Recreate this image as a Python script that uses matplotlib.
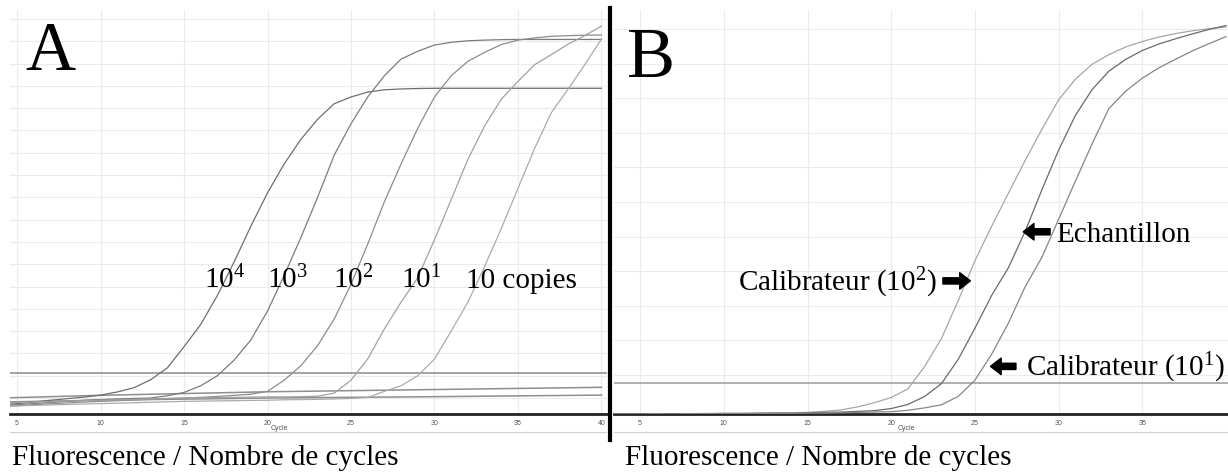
import matplotlib
matplotlib.use("Agg")
import matplotlib.pyplot as plt
from matplotlib.lines import Line2D

plt.rcParams['font.family'] = ['Liberation Serif', 'DejaVu Serif']
plt.rcParams['mathtext.fontset'] = 'custom'
plt.rcParams['mathtext.rm'] = 'Liberation Serif'

W, H = 1228, 472

# ---------------- data: panel A (dilution series) ----------------
cycles_A = list(range(4, 41))
A_1e4 = [-0.3, -0.25, -0.18, -0.1, -0.03, 0.04, 0.13, 0.27, 0.46, 0.82, 1.35, 2.3, 3.3,
         4.6, 6.1, 7.7, 9.2, 10.5, 11.6, 12.5, 13.2, 13.5, 13.72, 13.82, 13.86, 13.88,
         13.89, 13.89, 13.89, 13.89, 13.89, 13.89, 13.89, 13.89, 13.89, 13.89, 13.89]
A_1e3 = [-0.33, -0.3, -0.25, -0.2, -0.15, -0.1, -0.07, -0.04, -0.02, 0.0, 0.1, 0.25, 0.55,
         1.0, 1.7, 2.6, 3.9, 5.5, 7.2, 9.0, 10.9, 12.3, 13.5, 14.45, 15.2, 15.55, 15.83,
         15.95, 16.02, 16.05, 16.07, 16.08, 16.08, 16.08, 16.08, 16.08, 16.08]
A_1e2 = [-0.38, -0.35, -0.3, -0.26, -0.22, -0.18, -0.15, -0.12, -0.09, -0.06, -0.03, 0.0,
         0.03, 0.07, 0.12, 0.17, 0.3, 0.8, 1.45, 2.35, 3.55, 5.1, 6.9, 8.8, 10.5, 12.1,
         13.5, 14.45, 15.1, 15.5, 15.85, 16.05, 16.15, 16.22, 16.25, 16.27, 16.28]
A_1e1 = [-0.22, -0.2, -0.18, -0.16, -0.14, -0.12, -0.1, -0.08, -0.06, -0.04, -0.02, 0.0,
         0.01, 0.02, 0.03, 0.04, 0.05, 0.05, 0.06, 0.08, 0.22, 0.8, 1.75, 3.1, 4.3, 5.4,
         7.1, 8.9, 10.7, 12.2, 13.4, 14.2, 14.95, 15.4, 15.87, 16.25, 16.68]
A_10 = [-0.37, -0.35, -0.33, -0.31, -0.29, -0.27, -0.25, -0.23, -0.21, -0.19, -0.17, -0.15,
        -0.14, -0.13, -0.12, -0.11, -0.1, -0.08, -0.07, -0.06, -0.04, -0.02, 0.02, 0.3,
        0.55, 1.0, 1.75, 3.0, 4.3, 5.9, 7.6, 9.4, 11.2, 12.8, 13.85, 14.95, 16.1]
flat_cycles_A = [4, 10, 20, 30, 40]
A_flat1 = [0.0, 0.12, 0.28, 0.38, 0.48]
A_flat2 = [-0.18, -0.1, 0.0, 0.06, 0.13]
threshold_A = 1.11
labels_A = [r'$\mathregular{10^{4}}$', r'$\mathregular{10^{3}}$', r'$\mathregular{10^{2}}$',
            r'$\mathregular{10^{1}}$', '10 copies']
label_cycles_A = [16.2, 19.95, 23.95, 28.0, 31.9]
label_level_A = 4.93

# ---------------- data: panel B (sample vs calibrators) ----------------
cycles_B = list(range(3, 41))
B_cal100 = [-0.13, -0.13, -0.13, -0.12, -0.12, -0.12, -0.11, -0.11, -0.11, -0.1, -0.1, -0.1,
            -0.08, -0.05, -0.01, 0.08, 0.2, 0.35, 0.6, 1.25, 2.05, 3.15, 4.3, 5.3, 6.25, 7.2,
            8.1, 8.95, 9.55, 9.98, 10.26, 10.48, 10.64, 10.77, 10.87, 10.95, 11.01, 11.06]
B_sample = [-0.13, -0.13, -0.13, -0.13, -0.12, -0.12, -0.12, -0.11, -0.11, -0.11, -0.1, -0.1,
            -0.09, -0.08, -0.07, -0.05, -0.03, 0.03, 0.15, 0.38, 0.75, 1.45, 2.35, 3.3, 4.1,
            5.15, 6.35, 7.5, 8.5, 9.25, 9.78, 10.12, 10.38, 10.57, 10.72, 10.86, 10.99, 11.1]
B_cal10 = [-0.13, -0.13, -0.13, -0.13, -0.13, -0.12, -0.12, -0.12, -0.12, -0.11, -0.11, -0.11,
           -0.1, -0.1, -0.09, -0.08, -0.07, -0.06, -0.02, 0.05, 0.14, 0.38, 0.85, 1.6, 2.5,
           3.55, 4.4, 5.5, 6.6, 7.68, 8.7, 9.2, 9.58, 9.88, 10.13, 10.37, 10.58, 10.78]
threshold_B = 0.77

xticks_A = [5, 10, 15, 20, 25, 30, 35, 40]
xticks_B = [5, 10, 15, 20, 25, 30, 35]

# ---------------- figure ----------------
fig = plt.figure(figsize=(W / 100, H / 100), dpi=100)
fig.patch.set_facecolor('white')


def px_axes(left, top, right, bottom):
    return fig.add_axes([left / W, (H - bottom) / H, (right - left) / W, (bottom - top) / H])


def style(ax, xlim, ylim, xticks, ygrid, cycle_x):
    ax.set_xlim(*xlim)
    ax.set_ylim(*ylim)
    for s in ['top', 'left', 'right']:
        ax.spines[s].set_visible(False)
    ax.spines['bottom'].set_color('#222222')
    ax.spines['bottom'].set_linewidth(2.0)
    ax.set_xticks(xticks)
    ax.set_xticklabels([str(t) for t in xticks], fontsize=5, color='#555555',
                       family='Liberation Sans')
    ax.tick_params(axis='x', length=0, pad=4)
    ax.set_yticks([])
    for g in xticks:
        ax.axvline(g, color='#ebebeb', lw=0.8, zorder=0)
    for g in ygrid:
        ax.axhline(g, color='#ebebeb', lw=0.8, zorder=0)
    ax.text(cycle_x, -0.037, 'Cycle', transform=ax.get_xaxis_transform(), fontsize=5,
            color='#555555', family='Liberation Sans', ha='center', va='center')


# Panel A
axA = px_axes(10, 10, 607, 414)
style(axA, (4.58, 40.33), (-0.717, 17.4), xticks_A, range(0, 18), 20.7)
axA.axhline(threshold_A, color='#8a8a8a', lw=1.1, zorder=2)
axA.plot(flat_cycles_A, A_flat1, color='#8e8e8e', lw=1.1, zorder=2)
axA.plot(flat_cycles_A, A_flat2, color='#8e8e8e', lw=1.1, zorder=2)
for ys, col in [(A_1e4, '#6e6e6e'), (A_1e3, '#7c7c7c'), (A_1e2, '#8c8c8c'),
                (A_1e1, '#a2a2a2'), (A_10, '#ababab')]:
    axA.plot(cycles_A, ys, color=col, lw=0.9, zorder=3)
for lab, cx in zip(labels_A, label_cycles_A):
    axA.text(cx, label_level_A, lab, fontsize=21, ha='left', va='baseline', color='black',
             zorder=5)

# Panel B
axB = px_axes(614, 10, 1228, 414)
style(axB, (3.44, 40.12), (-0.127, 11.55), xticks_B, range(1, 12), 20.9)
axB.axhline(threshold_B, color='#9a9a9a', lw=1.1, zorder=2)
for ys, col in [(B_cal100, '#a6a6a6'), (B_sample, '#6a6a6a'), (B_cal10, '#868686')]:
    axB.plot(cycles_B, ys, color=col, lw=0.9, zorder=3)

arrow = dict(arrowstyle='simple,head_length=0.55,head_width=0.85,tail_width=0.32',
             color='black', mutation_scale=14, shrinkA=0, shrinkB=0)
# Echantillon
axB.annotate('', xy=(27.89, 5.14), xytext=(29.49, 5.14), arrowprops=arrow, zorder=6)
axB.text(29.87, 4.84, 'Echantillon', fontsize=21, ha='left', va='baseline')
# Calibrateur 10^2
axB.annotate('', xy=(24.73, 3.72), xytext=(23.09, 3.72), arrowprops=arrow, zorder=6)
axB.text(22.74, 3.44, r'Calibrateur ($\mathregular{10^{2}}$)', fontsize=21, ha='right',
         va='baseline')
# Calibrateur 10^1
axB.annotate('', xy=(25.93, 1.25), xytext=(27.45, 1.25), arrowprops=arrow, zorder=6)
axB.text(28.05, 0.96, r'Calibrateur ($\mathregular{10^{1}}$)', fontsize=21, ha='left',
         va='baseline')

# Panel letters
fig.text(25 / W, 1 - 70 / H, 'A', fontsize=50, ha='left', va='baseline')
fig.text(627 / W, 1 - 77 / H, 'B', fontsize=52, ha='left', va='baseline')

# Bottom captions
fig.text(12 / W, 1 - 465 / H, 'Fluorescence / Nombre de cycles', fontsize=21, ha='left',
         va='baseline')
fig.text(625 / W, 1 - 465 / H, 'Fluorescence / Nombre de cycles', fontsize=21, ha='left',
         va='baseline')

# light bottom border lines and the black separator
fig.add_artist(Line2D([10 / W, 606 / W], [1 - 432 / H] * 2, color='#d0d0d0', lw=0.8))
fig.add_artist(Line2D([614 / W, 1228 / W], [1 - 432 / H] * 2, color='#d0d0d0', lw=0.8))
fig.add_artist(Line2D([610 / W, 610 / W], [1 - 8 / H, 1 - 440 / H], color='black', lw=3.0))

fig.savefig('out.png', dpi=100, facecolor='white')
